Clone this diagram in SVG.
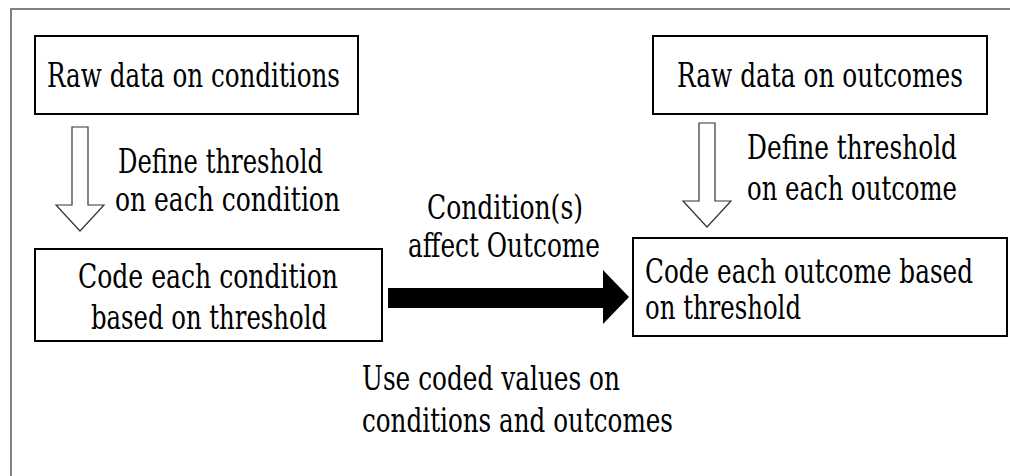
<svg xmlns="http://www.w3.org/2000/svg" width="1010" height="476" viewBox="0 0 1010 476">
<style>
.box{fill:#fff;stroke:#000;stroke-width:2}
.hollow{fill:#fff;stroke:#333;stroke-width:1.2}
text{font-family:'DejaVu Serif',serif;font-size:26px;fill:#000}
</style>
<rect width="1010" height="476" fill="#fff"/>
<path d="M11,476 V9 H1010" fill="none" stroke="#808080" stroke-width="2"/>
<g id="connectors">
<polygon class="hollow" points="72,127 88,127 88,205 104,205 80,231 56,205 72,205"/>
<polygon class="hollow" points="699,123 715,123 715,201 731,201 707,227 683,201 699,201"/>
<polygon fill="#000" points="388,288 603,288 603,270 629,297 603,324 603,308 388,308"/>
</g>
<g id="raw-conditions">
<rect class="box" x="35" y="36" width="323" height="78"/>
<text transform="translate(47,87) scale(1,1.3)" textLength="293" lengthAdjust="spacingAndGlyphs">Raw data on conditions</text>
</g>
<g id="define-conditions">
<text transform="translate(118,173) scale(1,1.3)" textLength="205" lengthAdjust="spacingAndGlyphs">Define threshold</text>
<text transform="translate(115,211) scale(1,1.3)" textLength="225" lengthAdjust="spacingAndGlyphs">on each condition</text>
</g>
<g id="code-conditions">
<rect class="box" x="35" y="249" width="347" height="92"/>
<text transform="translate(78,288) scale(1,1.3)" textLength="260" lengthAdjust="spacingAndGlyphs">Code each condition</text>
<text transform="translate(91,329) scale(1,1.3)" textLength="236" lengthAdjust="spacingAndGlyphs">based on threshold</text>
</g>
<g id="affect-label">
<text transform="translate(427,219) scale(1,1.3)" textLength="156" lengthAdjust="spacingAndGlyphs">Condition(s)</text>
<text transform="translate(408,257) scale(1,1.3)" textLength="192" lengthAdjust="spacingAndGlyphs">affect Outcome</text>
</g>
<g id="raw-outcomes">
<rect class="box" x="653" y="36" width="334" height="78"/>
<text transform="translate(677,87) scale(1,1.3)" textLength="286" lengthAdjust="spacingAndGlyphs">Raw data on outcomes</text>
</g>
<g id="define-outcomes">
<text transform="translate(747,159) scale(1,1.3)" textLength="210" lengthAdjust="spacingAndGlyphs">Define threshold</text>
<text transform="translate(747,200) scale(1,1.3)" textLength="210" lengthAdjust="spacingAndGlyphs">on each outcome</text>
</g>
<g id="code-outcomes">
<rect class="box" x="633" y="238" width="374" height="98"/>
<text transform="translate(645,283) scale(1,1.3)" textLength="328" lengthAdjust="spacingAndGlyphs">Code each outcome based</text>
<text transform="translate(645,319) scale(1,1.3)" textLength="156" lengthAdjust="spacingAndGlyphs">on threshold</text>
</g>
<g id="use-coded">
<text transform="translate(362,390) scale(1,1.3)" textLength="258" lengthAdjust="spacingAndGlyphs">Use coded values on</text>
<text transform="translate(362,432) scale(1,1.3)" textLength="311" lengthAdjust="spacingAndGlyphs">conditions and outcomes</text>
</g>
</svg>
